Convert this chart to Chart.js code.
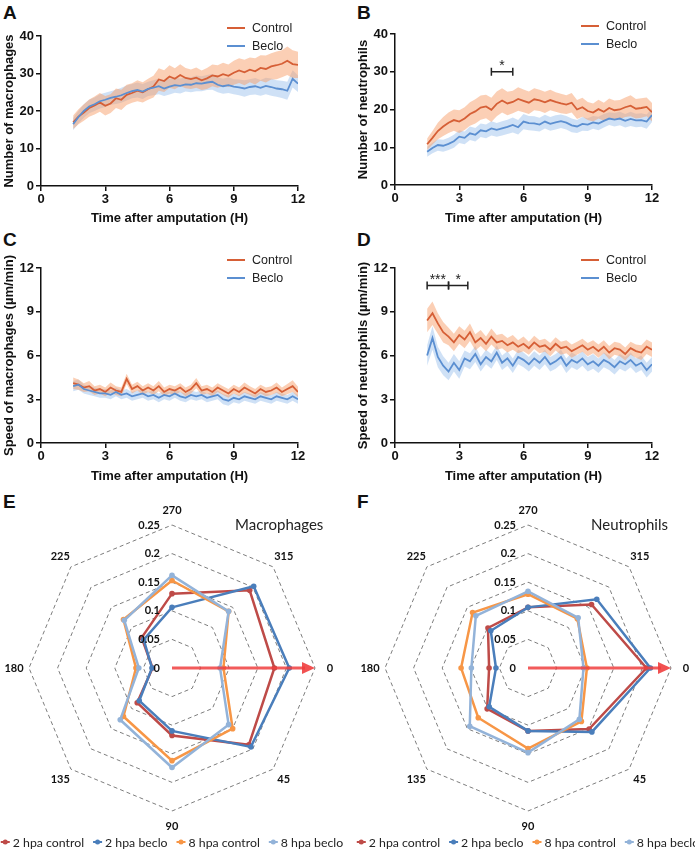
<!DOCTYPE html>
<html>
<head>
<meta charset="utf-8">
<script src="https://cdn.jsdelivr.net/npm/chart.js@4.4.1/dist/chart.umd.min.js"></script>
<style>
  body { margin: 0; background: #fff; width: 695px; height: 851px; position: relative; overflow: hidden; }
  canvas { position: absolute; }
  .tag { position: absolute; font: bold 19px "Liberation Sans", Arial, sans-serif; line-height: 19px; color: #111; }
</style>
</head>
<body>
<div class="tag" style="left:3px;top:3px">A</div>
<div class="tag" style="left:357px;top:3px">B</div>
<div class="tag" style="left:3px;top:230px">C</div>
<div class="tag" style="left:357px;top:230px">D</div>
<div class="tag" style="left:3px;top:492px">E</div>
<div class="tag" style="left:357px;top:492px">F</div>

<canvas id="chartA" width="347" height="230" style="left:0;top:0"></canvas>
<canvas id="chartB" width="348" height="230" style="left:347px;top:0"></canvas>
<canvas id="chartC" width="347" height="258" style="left:0;top:230px"></canvas>
<canvas id="chartD" width="348" height="258" style="left:347px;top:230px"></canvas>
<canvas id="chartE" width="347" height="363" style="left:0;top:488px"></canvas>
<canvas id="chartF" width="348" height="363" style="left:347px;top:488px"></canvas>

<script>
// hours after amputation
const times = [1.5,1.75,2,2.25,2.5,2.75,3,3.25,3.5,3.75,
  4,4.25,4.5,4.75,5,5.25,5.5,5.75,6,6.25,
  6.5,6.75,7,7.25,7.5,7.75,8,8.25,8.5,8.75,
  9,9.25,9.5,9.75,10,10.25,10.5,10.75,11,11.25,
  11.5,11.75,12];

// A - number of macrophages
const macroCtrl = [17.0,18.5,19.6,20.8,21.5,22.3,21.4,22.0,23.4,23.0,
  24.3,24.8,25.4,25.0,25.8,26.5,28.4,28.0,29.2,28.6,
  29.6,28.8,28.5,28.9,28.2,28.7,29.5,29.2,29.8,29.4,
  30.2,30.8,30.3,31.0,30.6,31.5,31.2,31.9,32.2,32.6,
  33.4,32.5,32.3];
const macroCtrlErr = [1.8,2.0,2.2,2.3,2.4,2.5,2.6,2.5,2.6,2.7,
  2.7,2.6,2.8,2.7,2.8,2.9,3.0,2.9,3.0,2.8,
  2.9,2.7,2.6,2.7,2.6,2.8,2.9,3.0,3.1,3.0,
  3.2,3.3,3.4,3.3,3.5,3.4,3.6,3.5,3.7,3.6,
  3.8,3.7,3.5];
const macroBeclo = [16.5,18.4,20.0,21.2,21.8,22.6,23.0,23.5,23.8,24.2,
  24.8,25.3,25.6,25.2,25.9,26.2,26.6,26.0,26.5,26.9,
  26.7,27.1,27.0,27.4,27.3,27.6,27.8,27.0,26.6,26.9,
  26.5,26.3,26.0,26.4,26.6,26.2,26.7,26.4,26.0,25.8,
  25.4,28.6,27.3];
const macroBecloErr = [1.6,1.7,1.8,1.8,1.8,1.9,1.9,1.8,1.9,2.0,
  2.0,1.9,2.0,2.0,1.9,2.0,2.1,2.0,2.1,2.0,
  2.0,1.9,2.0,2.1,2.0,2.0,2.1,2.0,2.0,2.1,
  2.0,2.1,2.2,2.1,2.2,2.1,2.2,2.3,2.2,2.3,
  2.4,2.3,2.2];

// B - number of neutrophils
const neutroCtrl = [10.8,12.5,14.3,15.5,16.5,17.2,16.8,17.6,18.8,19.5,
  20.5,20.8,19.9,21.5,22.4,21.6,22.0,22.8,22.3,21.8,
  22.7,22.4,21.9,22.5,22.0,21.6,21.3,21.8,20.0,20.6,
  19.6,19.2,20.1,19.4,20.4,19.8,20.0,20.6,21.0,20.2,
  20.4,20.7,19.3];
const neutroCtrlErr = [1.5,1.8,2.2,2.5,2.7,2.8,3.0,3.0,3.1,3.2,
  3.2,3.1,3.2,3.3,3.2,3.1,3.0,3.1,3.0,3.0,
  2.9,2.8,2.8,2.7,2.6,2.6,2.5,2.6,2.5,2.5,
  2.4,2.4,2.5,2.4,2.5,2.6,2.5,2.6,2.8,2.6,
  2.6,2.5,2.4];
const neutroBeclo = [8.8,9.8,10.6,10.4,10.9,11.6,12.8,12.5,13.7,13.3,
  14.5,14.2,15.0,14.6,15.0,15.4,15.9,15.3,16.8,16.4,
  16.3,16.0,16.8,16.2,16.6,16.9,16.5,15.8,15.5,16.2,
  16.0,16.6,16.3,17.0,17.6,17.3,17.6,17.0,17.5,17.1,
  17.2,16.8,18.5];
const neutroBecloErr = [1.3,1.4,1.5,1.6,1.6,1.7,1.7,1.7,1.8,1.8,
  1.8,1.8,1.9,1.8,1.9,1.9,2.0,1.9,2.0,1.9,
  1.9,1.8,1.8,1.8,1.9,1.8,1.8,1.8,1.7,1.8,
  1.7,1.7,1.8,1.8,1.7,1.8,1.8,1.8,1.9,1.8,
  1.8,1.9,1.8];

// C - speed of macrophages
const macroSpeedCtrl = [4.1,4.0,3.8,3.9,3.6,3.7,3.5,3.8,3.6,3.5,
  4.4,3.7,3.9,3.6,3.8,3.6,3.9,3.5,3.7,3.6,
  3.8,3.5,3.7,4.1,3.6,3.7,3.5,3.8,3.6,3.4,
  3.7,3.5,3.8,3.6,3.4,3.7,3.5,3.6,3.8,3.5,
  3.7,3.9,3.5];
const macroSpeedCtrlErr = [0.4,0.35,0.3,0.35,0.3,0.3,0.3,0.35,0.3,0.3,
  0.35,0.3,0.3,0.3,0.3,0.3,0.35,0.3,0.3,0.3,
  0.3,0.3,0.3,0.35,0.3,0.3,0.3,0.3,0.3,0.3,
  0.3,0.3,0.35,0.3,0.3,0.3,0.3,0.3,0.35,0.3,
  0.35,0.4,0.35];
const macroSpeedBeclo = [3.9,4.0,3.7,3.6,3.5,3.4,3.4,3.3,3.5,3.3,
  3.4,3.2,3.3,3.4,3.2,3.3,3.1,3.3,3.2,3.4,
  3.2,3.1,3.3,3.2,3.3,3.1,3.2,3.3,3.0,2.9,
  3.1,3.0,3.2,3.1,3.0,3.2,3.1,3.0,3.2,3.1,
  3.0,3.2,3.0];
const macroSpeedBecloErr = [0.35,0.35,0.3,0.3,0.3,0.3,0.3,0.3,0.3,0.3,
  0.3,0.3,0.3,0.3,0.3,0.3,0.3,0.3,0.3,0.3,
  0.3,0.3,0.3,0.3,0.3,0.3,0.3,0.3,0.35,0.35,
  0.3,0.3,0.3,0.3,0.3,0.3,0.3,0.3,0.3,0.3,
  0.3,0.3,0.3];

// D - speed of neutrophils
const neutroSpeedCtrl = [8.4,8.9,8.2,7.6,7.3,6.9,7.4,7.1,7.6,6.9,
  7.2,6.8,7.3,6.9,7.0,6.7,6.9,6.6,6.8,6.5,
  6.9,6.6,6.7,6.4,6.8,6.5,6.6,6.3,6.5,6.7,
  6.4,6.6,6.3,6.6,6.2,6.5,6.4,6.1,6.5,6.3,
  6.2,6.6,6.4];
const neutroSpeedCtrlErr = [0.8,0.8,0.7,0.7,0.6,0.6,0.6,0.6,0.6,0.55,
  0.55,0.5,0.55,0.5,0.5,0.5,0.5,0.45,0.5,0.45,
  0.45,0.45,0.45,0.45,0.45,0.45,0.45,0.45,0.45,0.45,
  0.45,0.45,0.45,0.45,0.45,0.45,0.45,0.45,0.45,0.45,
  0.5,0.5,0.5];
const neutroSpeedBeclo = [6.0,7.2,5.9,5.3,4.9,5.5,5.0,5.8,5.6,6.1,
  5.4,5.9,5.6,6.2,5.5,5.8,5.3,5.9,5.7,5.4,
  5.8,5.5,5.9,5.4,5.6,5.9,5.3,5.7,5.5,5.8,
  5.4,5.6,5.3,5.7,5.5,5.2,5.6,5.4,5.7,5.3,
  5.5,5.0,5.4];
const neutroSpeedBecloErr = [0.7,0.8,0.7,0.65,0.6,0.6,0.6,0.55,0.55,0.55,
  0.5,0.5,0.5,0.5,0.5,0.5,0.5,0.5,0.5,0.5,
  0.5,0.5,0.5,0.5,0.5,0.5,0.5,0.5,0.5,0.5,
  0.5,0.5,0.5,0.5,0.5,0.5,0.5,0.5,0.5,0.5,
  0.5,0.5,0.5];

// significance bars: [from hour, to hour, y value, label]
const sigNeutro = [[4.5, 5.5, 30, '*']];
const sigNeutroSpeed = [[1.5, 2.5, 10.8, '***'], [2.5, 3.4, 10.8, '*']];

// E / F - direction of migration (fraction of cells per angle)
const angleLabels = ['270', '315', '0', '45', '90', '135', '180', '225'];
const radarTicks = [0, 0.05, 0.1, 0.15, 0.2, 0.25];
const radarSeries = ['2 hpa control', '2 hpa beclo', '8 hpa control', '8 hpa beclo'];
const macroDir2Ctrl = [0.13, 0.192, 0.179, 0.19, 0.118, 0.086, 0.034, 0.075];
const macroDir2Beclo = [0.106, 0.202, 0.205, 0.195, 0.11, 0.081, 0.035, 0.07];
const macroDir8Ctrl = [0.153, 0.14, 0.09, 0.15, 0.162, 0.12, 0.063, 0.12];
const macroDir8Beclo = [0.162, 0.14, 0.084, 0.14, 0.174, 0.128, 0.058, 0.118];
const neutroDir2Ctrl = [0.106, 0.157, 0.207, 0.151, 0.11, 0.101, 0.068, 0.099];
const neutroDir2Beclo = [0.106, 0.17, 0.214, 0.158, 0.11, 0.096, 0.056, 0.092];
const neutroDir8Ctrl = [0.129, 0.122, 0.103, 0.132, 0.141, 0.123, 0.117, 0.137];
const neutroDir8Beclo = [0.134, 0.124, 0.097, 0.127, 0.148, 0.144, 0.099, 0.129];

const ARIAL = '"Liberation Sans", Arial, sans-serif';
const CALIBRI = 'Lato, "Open Sans", sans-serif';
const CTRL = '#d65f36';
const BECLO = '#5b8fd1';

// legend drawn near the top right of the plot area
const cornerLegend = {
  id: 'cornerLegend',
  afterDraw(chart) {
    const { ctx, chartArea } = chart;
    const items = [chart.data.datasets[0], chart.data.datasets[1]];
    ctx.save();
    ctx.font = '12.5px ' + ARIAL;
    ctx.textBaseline = 'middle';
    items.forEach((ds, i) => {
      const y = chartArea.top - 8 + i * 18;
      const x = chartArea.left + 186;
      ctx.strokeStyle = ds.borderColor;
      ctx.lineWidth = 2;
      ctx.beginPath();
      ctx.moveTo(x, y);
      ctx.lineTo(x + 18, y);
      ctx.stroke();
      ctx.fillStyle = '#222';
      ctx.fillText(ds.label, x + 25, y + 1);
    });
    ctx.restore();
  }
};

const sigBars = {
  id: 'sigBars',
  afterDraw(chart, args, opts) {
    if (!opts.bars) return;
    const { ctx, scales } = chart;
    ctx.save();
    ctx.strokeStyle = '#222';
    ctx.fillStyle = '#222';
    ctx.lineWidth = 1.5;
    ctx.font = '14px ' + ARIAL;
    ctx.textAlign = 'center';
    ctx.textBaseline = 'alphabetic';
    opts.bars.forEach(b => {
      const x1 = scales.x.getPixelForValue(b[0]);
      const x2 = scales.x.getPixelForValue(b[1]);
      const y = scales.y.getPixelForValue(b[2]);
      ctx.beginPath();
      ctx.moveTo(x1, y); ctx.lineTo(x2, y);
      ctx.moveTo(x1, y - 4); ctx.lineTo(x1, y + 4);
      ctx.moveTo(x2, y - 4); ctx.lineTo(x2, y + 4);
      ctx.stroke();
      ctx.fillText(b[3], (x1 + x2) / 2, y - 2);
    });
    ctx.restore();
  }
};

function points(vals) {
  return times.map((t, i) => ({ x: t, y: vals[i] }));
}
function shifted(vals, err, sign) {
  return times.map((t, i) => ({ x: t, y: vals[i] + sign * err[i] }));
}

function timeChart(id, s) {
  const tickFont = { family: ARIAL, size: 13, weight: 'bold' };
  return new Chart(document.getElementById(id), {
    type: 'line',
    data: {
      datasets: [
        { label: 'Control', data: points(s.ctrl), borderColor: CTRL, borderWidth: 1.8, pointRadius: 0, order: 1 },
        { label: 'Beclo', data: points(s.beclo), borderColor: BECLO, borderWidth: 1.8, pointRadius: 0, order: 0 },
        { data: shifted(s.ctrl, s.ctrlErr, -1), borderWidth: 0, pointRadius: 0, fill: false, order: 3 },
        { data: shifted(s.ctrl, s.ctrlErr, 1), borderWidth: 0, pointRadius: 0, fill: 2,
          backgroundColor: 'rgba(247,160,108,0.5)', order: 3 },
        { data: shifted(s.beclo, s.becloErr, -1), borderWidth: 0, pointRadius: 0, fill: false, order: 4 },
        { data: shifted(s.beclo, s.becloErr, 1), borderWidth: 0, pointRadius: 0, fill: 4,
          backgroundColor: 'rgba(160,196,238,0.5)', order: 4 }
      ]
    },
    options: {
      responsive: false,
      animation: false,
      layout: { padding: { top: s.top, right: s.right, left: s.left, bottom: 0 } },
      plugins: {
        legend: { display: false },
        tooltip: { enabled: false },
        sigBars: { bars: s.sig }
      },
      scales: {
        x: {
          type: 'linear', min: 0, max: 12,
          ticks: { stepSize: 3, color: '#111', font: tickFont, padding: 1, maxRotation: 0 },
          grid: { drawOnChartArea: false, tickLength: 5, color: '#111', lineWidth: 1.5 },
          border: { color: '#111', width: 1.5 },
          title: { display: true, text: 'Time after amputation (H)', color: '#111', font: tickFont, padding: { top: 0, bottom: 4 } },
          afterFit(scale) { scale.height = s.xh; }
        },
        y: {
          min: 0, max: s.yMax,
          ticks: { stepSize: s.yStep, color: '#111', font: tickFont, padding: 2 },
          grid: { drawOnChartArea: false, tickLength: 5, color: '#111', lineWidth: 1.5 },
          border: { color: '#111', width: 1.5 },
          title: { display: true, text: s.yTitle, color: '#111', font: tickFont, padding: { top: 2, bottom: 3 } },
          afterFit(scale) { scale.width = 41; }
        }
      }
    },
    plugins: [cornerLegend, sigBars]
  });
}

timeChart('chartA', { ctrl: macroCtrl, ctrlErr: macroCtrlErr, beclo: macroBeclo, becloErr: macroBecloErr,
  yMax: 40, yStep: 10, yTitle: 'Number of macrophages', top: 36, right: 49, left: 0, xh: 44 });
timeChart('chartB', { ctrl: neutroCtrl, ctrlErr: neutroCtrlErr, beclo: neutroBeclo, becloErr: neutroBecloErr,
  yMax: 40, yStep: 10, yTitle: 'Number of neutrophils', top: 34, right: 43, left: 7, xh: 45, sig: sigNeutro });
timeChart('chartC', { ctrl: macroSpeedCtrl, ctrlErr: macroSpeedCtrlErr, beclo: macroSpeedBeclo, becloErr: macroSpeedBecloErr,
  yMax: 12, yStep: 3, yTitle: 'Speed of macrophages (\u00b5m/min)', top: 38, right: 49, left: 0, xh: 45 });
timeChart('chartD', { ctrl: neutroSpeedCtrl, ctrlErr: neutroSpeedCtrlErr, beclo: neutroSpeedBeclo, becloErr: neutroSpeedBecloErr,
  yMax: 12, yStep: 3, yTitle: 'Speed of neutrophils (\u00b5m/min)', top: 38, right: 43, left: 7, xh: 45, sig: sigNeutroSpeed });

// radar extras: arrow, tick labels, angle labels, title, legend
const radarDecor = {
  id: 'radarDecor',
  afterDatasetsDraw(chart) {
    const { ctx } = chart;
    const r = chart.scales.r;
    const tip = r.getPointPosition(2, r.drawingArea);
    ctx.save();
    ctx.strokeStyle = 'rgba(240,62,62,0.85)';
    ctx.fillStyle = 'rgba(240,62,62,0.9)';
    ctx.lineWidth = 3;
    ctx.beginPath();
    ctx.moveTo(r.xCenter, r.yCenter);
    ctx.lineTo(tip.x - 10, tip.y);
    ctx.stroke();
    ctx.beginPath();
    ctx.moveTo(tip.x, tip.y);
    ctx.lineTo(tip.x - 13, tip.y - 6);
    ctx.lineTo(tip.x - 13, tip.y + 6);
    ctx.closePath();
    ctx.fill();
    ctx.restore();
  },
  afterDraw(chart, args, opts) {
    const { ctx } = chart;
    const r = chart.scales.r;
    ctx.save();
    ctx.fillStyle = '#111';
    ctx.font = 'bold 11px ' + CALIBRI;
    ctx.textBaseline = 'middle';
    ctx.textAlign = 'right';
    radarTicks.forEach(v => {
      ctx.fillText(String(v), r.xCenter - 12, r.yCenter - r.getDistanceFromCenterForValue(v));
    });
    ctx.textAlign = 'center';
    chart.data.labels.forEach((lab, i) => {
      const p = r.getPointPosition(i, r.drawingArea + 15);
      ctx.fillText(lab, p.x, p.y);
    });
    ctx.textAlign = 'left';
    ctx.font = '15px ' + CALIBRI;
    ctx.fillStyle = '#222';
    ctx.fillText(opts.title, r.xCenter + 63, r.yCenter - 143);

    // legend
    ctx.font = '12.3px ' + CALIBRI;
    const items = chart.data.datasets;
    const widths = items.map(ds => 9 + 3 + ctx.measureText(ds.label).width);
    const gap = 9;
    const total = widths.reduce((a, b) => a + b, 0) + gap * (items.length - 1);
    let x = r.xCenter - total / 2;
    const y = chart.height - 9;
    items.forEach((ds, i) => {
      ctx.strokeStyle = ds.borderColor;
      ctx.fillStyle = ds.borderColor;
      ctx.lineWidth = 2;
      ctx.beginPath();
      ctx.moveTo(x, y); ctx.lineTo(x + 9, y);
      ctx.stroke();
      ctx.beginPath();
      ctx.arc(x + 4.5, y, 2.5, 0, Math.PI * 2);
      ctx.fill();
      ctx.fillStyle = '#222';
      ctx.fillText(ds.label, x + 12, y + 1);
      x += widths[i] + gap;
    });
    ctx.restore();
  }
};

const radarColors = ['#be4b48', '#4a7ebb', '#f79646', '#93b3d9'];

function radarChart(id, series, title, cx) {
  return new Chart(document.getElementById(id), {
    type: 'radar',
    data: {
      labels: angleLabels,
      datasets: series.map((vals, i) => ({
        label: radarSeries[i],
        data: vals,
        borderColor: radarColors[i],
        backgroundColor: radarColors[i],
        pointBackgroundColor: radarColors[i],
        pointBorderWidth: 0,
        borderWidth: 2.5,
        pointRadius: 2.8,
        fill: false,
        order: 3 - i
      }))
    },
    options: {
      responsive: false,
      animation: false,
      plugins: { legend: { display: false }, tooltip: { enabled: false }, radarDecor: { title } },
      scales: {
        r: {
          min: 0, max: 0.25,
          ticks: { display: false, stepSize: 0.05 },
          pointLabels: { display: false },
          angleLines: { display: false },
          grid: { color: '#7d7d7d', lineWidth: 1 },
          border: { dash: [4, 3] },
          afterFit(scale) {
            scale.xCenter = cx;
            scale.yCenter = 180;
            scale.drawingArea = 143;
          }
        }
      }
    },
    plugins: [radarDecor]
  });
}

radarChart('chartE', [macroDir2Ctrl, macroDir2Beclo, macroDir8Ctrl, macroDir8Beclo], 'Macrophages', 172);
radarChart('chartF', [neutroDir2Ctrl, neutroDir2Beclo, neutroDir8Ctrl, neutroDir8Beclo], 'Neutrophils', 181);
</script>
</body>
</html>
